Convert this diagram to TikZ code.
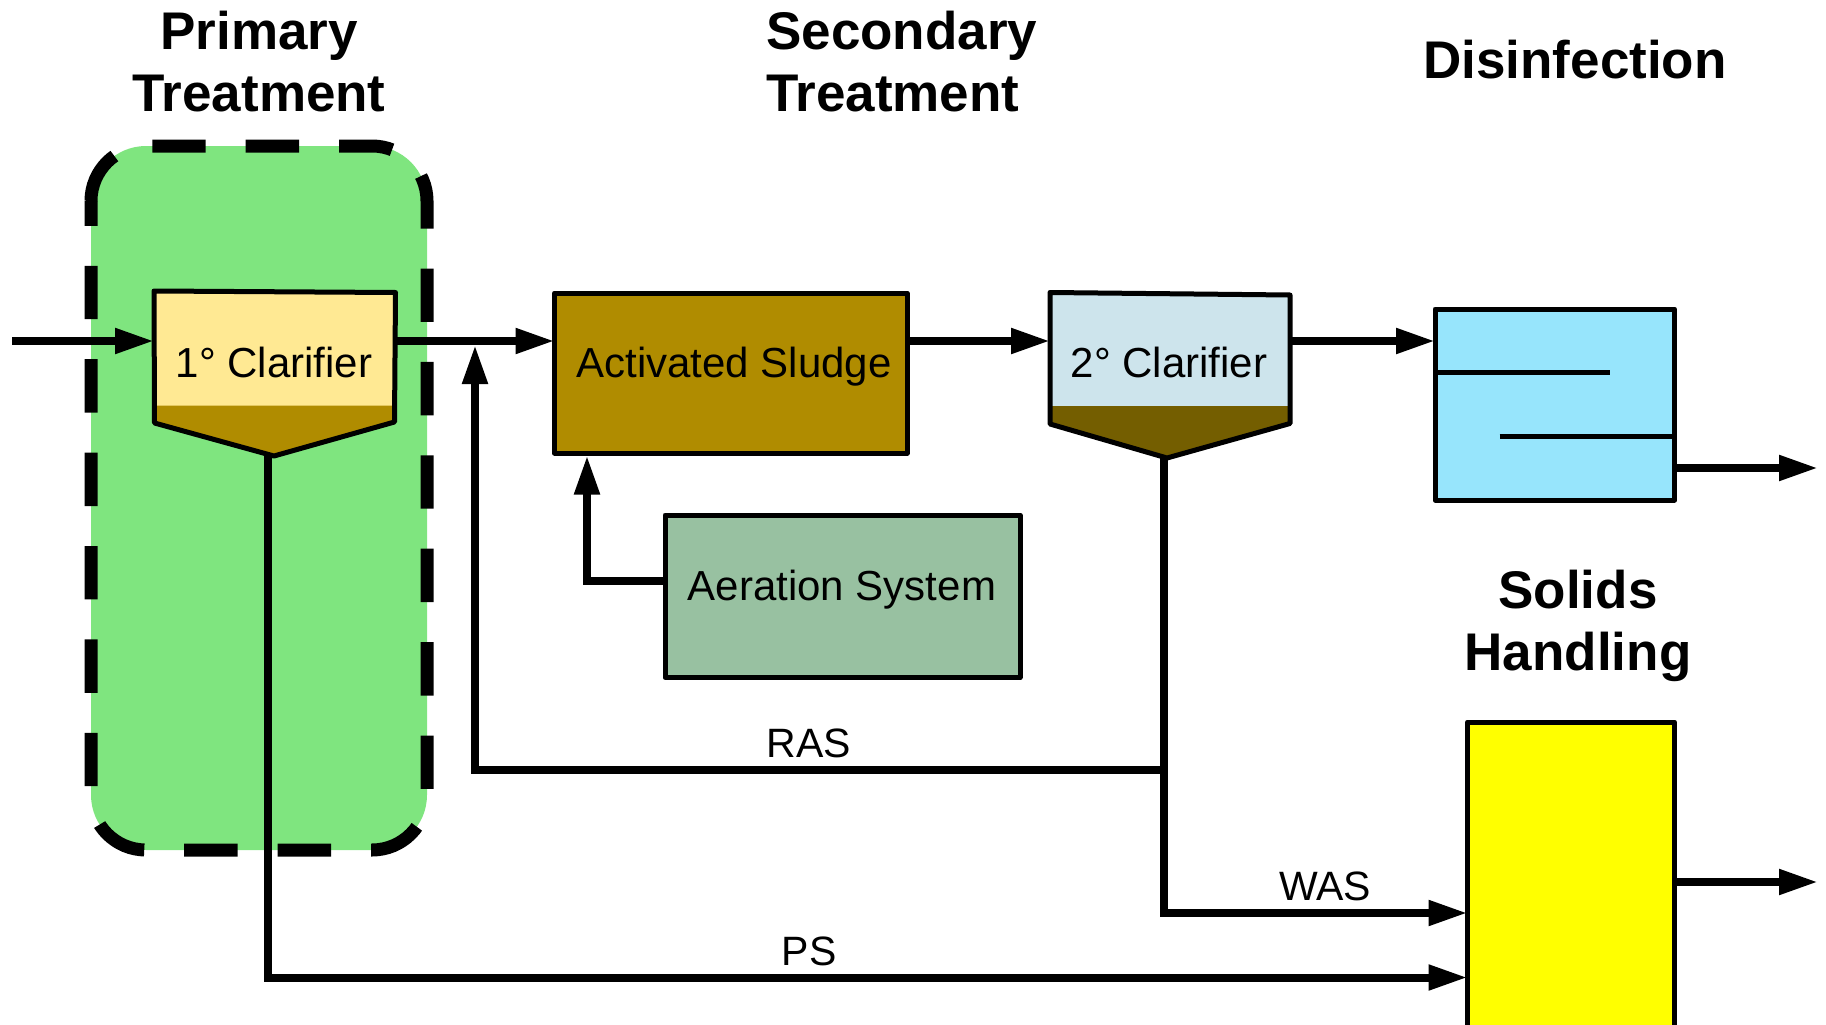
\documentclass[tikz,border=0pt]{standalone}
\usepackage{fontspec}
\setmainfont{Liberation Sans}
\usetikzlibrary{arrows.meta}
\definecolor{groupgreen}{HTML}{7FE57F}
\definecolor{clarlight}{HTML}{FFE993}
\definecolor{sludge}{HTML}{B08C00}
\definecolor{sludgedark}{HTML}{745E00}
\definecolor{aeration}{HTML}{98C1A1}
\definecolor{clarblue}{HTML}{CDE4EC}
\definecolor{disinf}{HTML}{97E5FC}
\definecolor{solids}{HTML}{FFFF00}
\begin{document}
\begin{tikzpicture}[x=1pt,y=-1pt,
  flow/.style={line width=8pt,-{Triangle[length=39pt,width=24pt]}},
  pipe/.style={line width=8pt},
  unit/.style={draw=black,line width=5pt,line join=round,inner sep=0pt,outer sep=0pt},
  tank/.style={draw=black,line width=5pt,line join=round},
  baffle/.style={line width=5pt},
  groupedge/.style={draw=black,line width=13pt,dash pattern=on 53.4pt off 40pt,rounded corners=55pt},
  boxtext/.style={font=\fontsize{42}{50}\selectfont,inner sep=0pt,anchor=base},
  tag/.style={font=\fontsize{41}{49}\selectfont,inner sep=0pt,anchor=base},
  title/.style={font=\bfseries\fontsize{53}{62}\selectfont,inner sep=0pt}]
\useasboundingbox (0,0) rectangle (1826,1025);
\clip (0,0) rectangle (1826,1025);

% primary treatment group: green panel with a dashed rounded outline
\fill[groupgreen,rounded corners=55pt] (91,146) rectangle (427,850);
\path[groupedge,dash phase=0pt]
  (245.7,146) -- (427,146) -- (427,850) -- (91,850) -- (91,201);
\path[groupedge,dash phase=53.4pt]
  (245.7,146) -- (91,146) -- (91,201);

% section titles
\node[title,anchor=base] (prim1) at (259,49) {Primary};
\node[title,anchor=base] (prim2) at (259,111) {Treatment};
\node[title,anchor=base west] (sec1) at (766,49) {Secondary};
\node[title,anchor=base west] (sec2) at (766,111) {Treatment};
\node[title,anchor=base] (dis) at (1575,78) {Disinfection};
\node[title,anchor=base] (sol1) at (1578,608) {Solids};
\node[title,anchor=base] (sol2) at (1578,670) {Handling};

% primary clarifier
\fill[clarlight] (154,291) -- (395.5,292.5) -- (394.5,422) -- (274,456) -- (154.5,423) -- cycle;
\fill[sludge] (154.5,405.5) -- (394.6,405.5) -- (394.5,422) -- (274,456) -- (154.5,423) -- cycle;
\draw[tank] (154,291) -- (395.5,292.5) -- (394.5,422) -- (274,456) -- (154.5,423) -- cycle;
\node[boxtext] (c1txt) at (274,377) {1° Clarifier};
\coordinate (c1in) at (154,341);
\coordinate (c1out) at (395.5,341);
\coordinate (c1bot) at (268,456);

% activated sludge and aeration
\node[unit,fill=sludge,minimum width=352.5pt,minimum height=160pt,anchor=north west] (as) at (554.5,293) {};
\node[boxtext] (astxt) at (734,377) {Activated Sludge};
\node[unit,fill=aeration,minimum width=355pt,minimum height=162.5pt,anchor=north west] (aer) at (665,515) {};
\node[boxtext] (aertxt) at (842,600) {Aeration System};

% secondary clarifier
\fill[clarblue] (1050,292.5) -- (1290,295) -- (1290,423.5) -- (1167,458) -- (1050,424) -- cycle;
\fill[sludgedark] (1050,406) -- (1290,406) -- (1290,423.5) -- (1167,458) -- (1050,424) -- cycle;
\draw[tank] (1050,292.5) -- (1290,295) -- (1290,423.5) -- (1167,458) -- (1050,424) -- cycle;
\node[boxtext] (c2txt) at (1169,377) {2° Clarifier};
\coordinate (c2in) at (1050,341);
\coordinate (c2out) at (1290,341);
\coordinate (c2bot) at (1164,456);

% disinfection contact tank
\node[unit,fill=disinf,minimum width=239.5pt,minimum height=191pt,anchor=north west] (cct) at (1435,309) {};
\draw[baffle] (cct.west |- 0,372.7) -- (1610,372.7);
\draw[baffle] (1499.5,436.7) -- (cct.east |- 0,436.7);

% solids handling
\node[unit,fill=solids,minimum width=207pt,minimum height=320pt,anchor=north west] (sh) at (1467.5,722) {};

% free ends and junctions
\coordinate (influent) at (12,341);
\coordinate (effluent) at (1818,468);
\coordinate (biosolids) at (1818,882);
\coordinate (rasjoin) at (1164,769.5);
\coordinate (rasbend) at (475,769.5);

% liquid train
\draw[flow] (influent) -- (c1in);
\draw[flow] (c1out) -- (c1out -| as.west);
\draw[flow] (as.east |- c2in) -- (c2in);
\draw[flow] (c2out) -- (c2out -| cct.west);
\draw[flow] (cct.east |- effluent) -- (effluent);
\draw[flow] (aer.west |- 0,581) -- (587,581) -- (587,455.5);

% sludge lines
\draw[pipe] (c2bot) -- (rasjoin);
\draw[flow] (rasjoin) -- (rasbend) -- (475,345);
\draw[flow] (rasjoin) -- (1164,913) -- (sh.west |- 0,913);
\draw[flow] (c1bot) -- (268,977.5) -- (sh.west |- 0,977.5);
\draw[flow] (sh.east |- biosolids) -- (biosolids);

% stream labels
\node[tag] (ras) at (809,757) {RAS};
\node[tag] (was) at (1325,900.5) {WAS};
\node[tag] (ps) at (809,965) {PS};
\end{tikzpicture}
\end{document}
